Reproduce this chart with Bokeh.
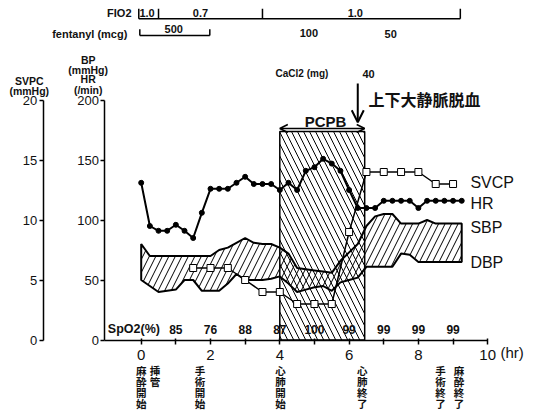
from bokeh.plotting import figure
from bokeh.models import Range1d, LinearAxis, FixedTicker, Arrow, OpenHead
from bokeh.core.properties import value
from bokeh.embed import file_html
from bokeh.resources import INLINE

# ---------------- data ----------------
hours = [0.0, 0.25, 0.5, 0.75, 1.0, 1.25, 1.5, 1.75, 2.0, 2.25, 2.5, 2.75, 3.0, 3.25,
         3.5, 3.75, 4.0, 4.25, 4.5, 4.75, 5.0, 5.25, 5.5, 5.75, 6.0, 6.25, 6.5, 6.75,
         7.0, 7.25, 7.5, 7.75, 8.0, 8.25, 8.5, 8.75, 9.0, 9.25]
hr = [131, 95, 91, 91, 96, 91, 85, 106, 126, 126, 126, 131, 136, 130, 130, 130, 125, 131,
      125, 141, 144, 151, 147, 141, 125, 110, 110, 110, 116, 116, 116, 116, 110, 116, 116,
      116, 116, 116]
sbp = [80, 70, 70, 70, 70, 70, 70, 70, 70, 75, 77, 81, 85, 81, 80, 80, 77, 72, 60, 59, 58,
       57, 56, 66, 73, 80, 95, 103, 105, 105, 97, 97, 97, 100, 97, 97, 97, 97]
dbp = [50, 45, 40, 41, 42, 50, 50, 41, 41, 41, 47, 55, 50, 50, 50, 51, 53, 47, 40, 42, 44,
       45, 41, 48, 50, 52, 61, 61, 61, 61, 72, 71, 65, 65, 65, 65, 65, 65]
svcp_hours = [1.5, 2.0, 2.5, 3.0, 3.5, 4.0, 4.5, 5.0, 5.5, 6.0, 6.5, 7.0, 7.5, 8.0, 8.5, 9.0]
svcp = [6, 6, 6, 5, 4, 4, 3, 3, 3, 9, 14, 14, 14, 14, 13, 13]
spo2_hours = [1, 2, 3, 4, 5, 6, 7, 8, 9]
spo2 = [85, 76, 88, 87, 100, 99, 99, 99, 99]
pcpb_start, pcpb_end = 4.0, 6.45
fio2_edges = [-0.07, 0.5, 3.5, 9.21]
fio2_values = ["1.0", "0.7", "1.0"]
fentanyl_edges = [-0.04, 1.98]
fentanyl_doses = ["500", "100", "50"]
cacl2_dose = "40"
event_hours = [0.0, 0.4, 1.7, 4.02, 6.38, 8.64, 9.17]
event_labels = ["麻酔開始", "挿管", "手術開始", "心肺開始", "心肺終了", "手術終了", "麻酔終了"]
x_ticks = [0, 1, 2, 3, 4, 5, 6, 7, 8, 9, 10]
x_tick_labels = ["0", "", "2", "", "4", "", "6", "", "8", "", "10"]
bp_ticks = [0, 50, 100, 150, 200]
svpc_ticks = [0, 5, 10, 15, 20]

# ---------------- figure ----------------
FONT = "Liberation Sans"
W, H = 542, 412
X0, X1 = -140.7 / 34.65, (W - 140.7) / 34.65
Y0, Y1 = (339.5 - H) / 1.2, 339.5 / 1.2

p = figure(width=W, height=H, x_range=Range1d(X0, X1), y_range=Range1d(Y0, Y1),
           x_axis_type=None, y_axis_type=None, toolbar_location=None,
           output_backend="svg", min_border=0, outline_line_color=None)
p.extra_y_ranges = {"svpc": Range1d(Y0 / 10, Y1 / 10)}
p.background_fill_color = "white"
p.border_fill_color = "white"


def style_axis(ax, size):
    ax.axis_line_width = 1.5
    ax.axis_line_color = "black"
    ax.major_tick_line_color = "black"
    ax.major_tick_line_width = 1.5
    ax.minor_tick_line_color = None
    ax.major_label_text_font = FONT
    ax.major_label_text_font_size = size
    ax.major_label_text_color = "#111111"


xaxis = LinearAxis(fixed_location=0, bounds=(-1.045, 10),
                   ticker=FixedTicker(ticks=x_ticks),
                   major_label_overrides={t: l for t, l in zip(x_ticks, x_tick_labels)})
style_axis(xaxis, "15px")
xaxis.major_tick_in = 2
xaxis.major_tick_out = 4
xaxis.major_label_standoff = 6
p.add_layout(xaxis, "below")

bpaxis = LinearAxis(fixed_location=-1.045, bounds=(0, 200), ticker=FixedTicker(ticks=bp_ticks))
style_axis(bpaxis, "13px")
bpaxis.major_tick_in = 0
bpaxis.major_tick_out = 4
bpaxis.major_label_standoff = 2
p.add_layout(bpaxis, "left")

svaxis = LinearAxis(fixed_location=-2.83, y_range_name="svpc", bounds=(0, 20),
                    ticker=FixedTicker(ticks=svpc_ticks))
style_axis(svaxis, "13px")
svaxis.major_tick_in = 0
svaxis.major_tick_out = 4
svaxis.major_label_standoff = 2
p.add_layout(svaxis, "left")

# PCPB box
p.quad(left=[pcpb_start], right=[pcpb_end], bottom=[0], top=[173.75],
       fill_alpha=0, hatch_pattern="\\", hatch_scale=12, hatch_weight=1,
       hatch_color="black", line_color="black", line_width=1.5)

# BP band
p.patch(x=hours + hours[::-1], y=sbp + dbp[::-1], fill_alpha=0,
        hatch_pattern="/", hatch_scale=13, hatch_weight=1, hatch_color="black",
        line_color="black", line_width=2)

# SVCP
p.line(svcp_hours, svcp, y_range_name="svpc", line_color="black", line_width=1.5)
p.scatter(svcp_hours, svcp, y_range_name="svpc", marker="square", size=7,
          fill_color="white", line_color="black", line_width=1)

# HR
p.line(hours, hr, line_color="black", line_width=2)
p.scatter(hours, hr, marker="circle", size=5, fill_color="black", line_color="black")


def txt(xs, ys, texts, size, align="center", bold=True, font=FONT, baseline="middle"):
    p.text(x=xs, y=ys, text=texts, text_font=value(font), text_font_size=size,
           text_font_style="bold" if bold else "normal", text_align=align,
           text_baseline=baseline, text_color="#111111")


# FIO2 bracket
p.segment(x0=[fio2_edges[0]], y0=[267.7], x1=[fio2_edges[-1]], y1=[267.7],
          line_color="black", line_width=1.5)
p.segment(x0=fio2_edges, y0=[267.7] * len(fio2_edges), x1=fio2_edges,
          y1=[276.0] * len(fio2_edges), line_color="black", line_width=1.5)
txt([-0.28], [272.3], ["FIO2"], "11px", align="right")
txt([0.17, 1.71, 6.18], [272.3, 272.8, 272.8], fio2_values, "11px")

# fentanyl bracket
p.segment(x0=[fentanyl_edges[0]], y0=[253.75], x1=[fentanyl_edges[1]], y1=[253.75],
          line_color="black", line_width=1.5)
p.segment(x0=fentanyl_edges, y0=[253.75, 253.75], x1=fentanyl_edges, y1=[259.0, 259.0],
          line_color="black", line_width=1.5)
txt([-0.4], [255.4], ["fentanyl (mcg)"], "11px", align="right")
txt([0.94, 4.84, 7.2], [259.0, 256.25, 255.4], fentanyl_doses, "11px")

# CaCl2
txt([4.64], [221.8], ["CaCl2 (mg)"], "10px")
txt([6.56], [221.8], [cacl2_dose], "11px")

# arrow and note
p.add_layout(Arrow(end=OpenHead(size=12, line_width=2, line_color="black"),
                   x_start=6.25, y_start=213.75, x_end=6.25, y_end=181.5,
                   line_width=2, line_color="black"))
txt([6.56], [201.0], ["上下大静脈脱血"], "16px", align="left", font="Noto Sans CJK JP")

# PCPB label and double arrow
p.add_layout(Arrow(start=OpenHead(size=8, line_width=1.5, line_color="black"),
                   end=OpenHead(size=8, line_width=1.5, line_color="black"),
                   x_start=pcpb_start, y_start=176.25, x_end=pcpb_end, y_end=176.25,
                   line_width=1.5, line_color="black"))
txt([5.32], [182.5], ["PCPB"], "15px")

# axis titles
txt([-3.23, -3.23], [216.25, 207.9], ["SVPC", "(mmHg)"], "10.5px")
txt([-1.53] * 4, [233.75, 225.4, 217.1, 208.75], ["BP", "(mmHg)", "HR", "(/min)"], "10.5px")

# series labels
txt([9.5] * 4, [131.5, 114.0, 93.5, 64.8], ["SVCP", "HR", "SBP", "DBP"], "16px",
    align="left", bold=False)

# SpO2 row
txt([-0.963], [9.3], ["SpO2(%)"], "12.5px", align="left")
txt(spo2_hours, [9.0] * len(spo2_hours), [str(v) for v in spo2], "12px")

# (hr)
txt([10.37], [-10.4], ["(hr)"], "15px", align="left", bold=False)

# vertical event labels
ev_x, ev_y, ev_t = [], [], []
for h, lab in zip(event_hours, event_labels):
    for i, ch in enumerate(lab):
        ev_x.append(h)
        ev_y.append(-25.4 - i * 9.17)
        ev_t.append(ch)
txt(ev_x, ev_y, ev_t, "10.5px", font="Noto Sans CJK JP")

open("out.html", "w").write(file_html(p, INLINE))
